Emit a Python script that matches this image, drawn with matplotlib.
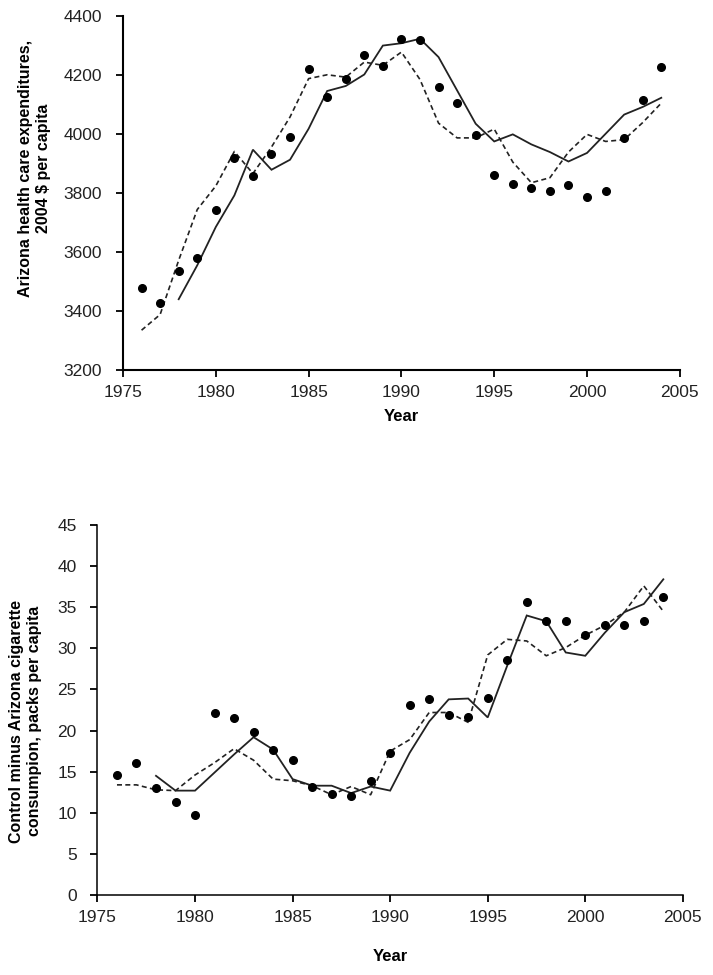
import matplotlib.pyplot as plt

plt.rcParams['font.family'] = ['Liberation Sans', 'DejaVu Sans']

# data
years = list(range(1976, 2005))
years_model = list(range(1978, 2005))

# top panel: Arizona health care expenditures
hc_actual = [3479, 3426, 3537, 3580, 3744, 3919, 3858, 3931, 3989, 4220,
             4125, 4188, 4269, 4230, 4322, 4318, 4158, 4105, 3996, 3860,
             3832, 3816, 3807, 3826, 3788, 3807, 3985, 4115, 4226]
hc_solid = [3440, 3555, 3685, 3792, 3947, 3879, 3913, 4018, 4146, 4163,
            4202, 4300, 4308, 4323, 4261, 4148, 4035, 3975, 3999, 3965,
            3939, 3907, 3936, 4001, 4066, 4092, 4123]
hc_dashed = [3335, 3388, 3572, 3744, 3824, 3941, 3866, 3956, 4058, 4188,
             4201, 4193, 4244, 4233, 4278, 4185, 4037, 3987, 3987, 4017,
             3905, 3835, 3852, 3939, 3999, 3975, 3981, 4039, 4105]

# bottom panel: control minus Arizona cigarette consumption
cig_actual = [14.6, 16.1, 13.0, 11.3, 9.7, 22.2, 21.5, 19.8, 17.6, 16.4,
              13.2, 12.3, 12.0, 13.9, 17.3, 23.1, 23.8, 21.9, 21.6, 24.0,
              28.6, 35.6, 33.3, 33.3, 31.6, 32.8, 32.8, 33.3, 36.2]
cig_solid = [14.5, 12.7, 12.7, 14.9, 17.1, 19.2, 17.7, 14.1, 13.3, 13.3,
             12.4, 13.2, 12.7, 17.3, 21.1, 23.8, 23.9, 21.6, 27.9, 34.0,
             33.3, 29.5, 29.1, 31.9, 34.4, 35.4, 38.4]
cig_dashed = [13.4, 13.4, 12.8, 12.7, 14.6, 16.1, 17.8, 16.4, 14.1, 13.9,
              13.3, 12.2, 13.2, 12.2, 17.5, 18.9, 22.2, 22.2, 21.0, 29.2,
              31.1, 30.9, 29.1, 30.1, 31.6, 32.8, 34.4, 37.6, 34.5]

fig = plt.figure(figsize=(7.13, 9.75), dpi=100)
ax1 = fig.add_axes([0.1725, 0.6205, 0.781, 0.363])
ax2 = fig.add_axes([0.1367, 0.082, 0.821, 0.3795])

for ax, act, sol, das in [(ax1, hc_actual, hc_solid, hc_dashed),
                          (ax2, cig_actual, cig_solid, cig_dashed)]:
    ax.plot(years_model, sol, color='#222222', lw=1.3, solid_joinstyle='miter')
    ax.plot(years, das, color='#222222', lw=1.2, ls=(0, (3, 2)))
    ax.plot(years, act, 'o', color='black', ms=5.5, mec='black')
    ax.set_xlim(1975, 2005)
    ax.set_xticks(range(1975, 2006, 5))
    for s in ['top', 'right']:
        ax.spines[s].set_visible(False)
    for s in ['left', 'bottom']:
        ax.spines[s].set_linewidth(1.5 if ax is ax1 else 1.1)
    ax.tick_params(direction='out', length=5, width=1.3, colors='black',
                   labelcolor='#222222', labelsize=12.5)
    ax.tick_params(axis='x', pad=6)
    ax.tick_params(axis='y', pad=10)

ax1.set_ylim(3200, 4400)
ax1.set_yticks(range(3200, 4401, 200))
ax1.set_xlabel('Year', fontsize=12, fontweight='bold', labelpad=6)
ax1.set_ylabel('Arizona health care expenditures,\n2004 $ per capita',
               fontsize=11.5, fontweight='bold')
ax1.yaxis.set_label_coords(-0.13, 0.57)

ax2.set_ylim(0, 45)
ax2.set_yticks(range(0, 46, 5))
ax2.set_xlabel('Year', fontsize=12, fontweight='bold', labelpad=17)
ax2.set_ylabel('Control minus Arizona cigarette\nconsumpion, packs per capita',
               fontsize=11.5, fontweight='bold')
ax2.yaxis.set_label_coords(-0.095, 0.47)

fig.savefig('out.png', dpi=100)
